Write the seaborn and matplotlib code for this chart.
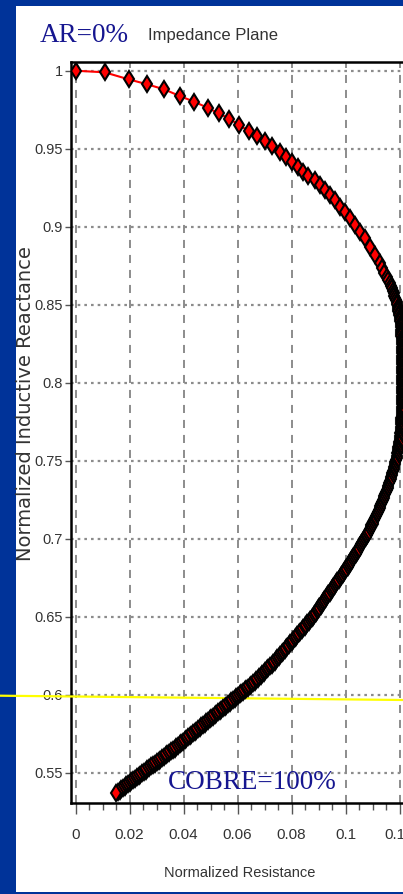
import numpy as np
import pandas as pd
import matplotlib
matplotlib.use("Agg")
import matplotlib.pyplot as plt
import seaborn as sns
from matplotlib.patches import Rectangle
from matplotlib.ticker import MultipleLocator

# impedance plane curve (one line per stretch of the curve)
resistance = [
    0.0000, 0.0107, 0.0196, 0.0265, 0.0329, 0.0388, 0.0440, 0.0489, 0.0530, 0.0569, 0.0606,
    0.0641, 0.0673, 0.0702, 0.0729, 0.0757, 0.0779, 0.0801, 0.0823, 0.0843, 0.0862,
    0.0886, 0.0904, 0.0923, 0.0941, 0.0960, 0.0979, 0.0997, 0.1016, 0.1034, 0.1053, 0.1071, 0.1090, 0.1108, 0.1127,
    0.1136, 0.1144, 0.1152, 0.1158, 0.1164, 0.1168, 0.1171, 0.1175, 0.1179,
    0.1181, 0.1184, 0.1186, 0.1189, 0.1191, 0.1194,
    0.1195, 0.1196, 0.1198, 0.1199, 0.1200, 0.1202, 0.1203, 0.1205,
    0.1205, 0.1206, 0.1206, 0.1206, 0.1207, 0.1207, 0.1208, 0.1208,
    0.1208, 0.1209, 0.1209, 0.1209, 0.1209, 0.1209, 0.1209, 0.1210, 0.1210, 0.1210, 0.1210, 0.1210,
    0.1210, 0.1210, 0.1210, 0.1211, 0.1211, 0.1211, 0.1211, 0.1210, 0.1210, 0.1210, 0.1210, 0.1210, 0.1210, 0.1210, 0.1209,
    0.1209, 0.1209, 0.1209, 0.1209, 0.1208, 0.1208, 0.1208, 0.1207, 0.1207, 0.1206, 0.1206, 0.1205, 0.1205, 0.1204, 0.1203,
    0.1202, 0.1201, 0.1200, 0.1199, 0.1198, 0.1196, 0.1195, 0.1194, 0.1192, 0.1190, 0.1189, 0.1187, 0.1185, 0.1183, 0.1181,
    0.1179, 0.1177, 0.1174, 0.1172, 0.1170, 0.1167, 0.1164, 0.1162, 0.1159, 0.1156, 0.1153, 0.1150, 0.1147, 0.1144, 0.1141, 0.1138,
    0.1135, 0.1132, 0.1129, 0.1126, 0.1123, 0.1119, 0.1116, 0.1113, 0.1110, 0.1106, 0.1103, 0.1100, 0.1096, 0.1093, 0.1089, 0.1086, 0.1082,
    0.1078, 0.1074, 0.1070, 0.1066, 0.1062, 0.1058, 0.1054, 0.1049, 0.1045, 0.1041, 0.1037, 0.1033, 0.1029, 0.1025, 0.1021, 0.1016, 0.1012, 0.1008,
    0.1003, 0.0999, 0.0994, 0.0989, 0.0984, 0.0979, 0.0975, 0.0970, 0.0965, 0.0960, 0.0955, 0.0951, 0.0946, 0.0941, 0.0936, 0.0931, 0.0927, 0.0922,
    0.0917, 0.0912, 0.0908, 0.0903, 0.0898, 0.0894, 0.0889, 0.0884, 0.0880,
    0.0874, 0.0869, 0.0864, 0.0858, 0.0853, 0.0848, 0.0843, 0.0837, 0.0832, 0.0827, 0.0821, 0.0816, 0.0811, 0.0805,
    0.0800, 0.0795, 0.0790, 0.0784, 0.0779, 0.0774, 0.0768, 0.0763, 0.0758, 0.0753, 0.0747, 0.0742, 0.0737, 0.0731,
    0.0726, 0.0720, 0.0714, 0.0709, 0.0703, 0.0697, 0.0691, 0.0686, 0.0680, 0.0674, 0.0669, 0.0663, 0.0657,
    0.0651, 0.0645, 0.0639, 0.0633, 0.0626, 0.0620, 0.0614, 0.0608, 0.0602, 0.0595, 0.0589, 0.0583,
    0.0577, 0.0571, 0.0565, 0.0558, 0.0552, 0.0546, 0.0540, 0.0534, 0.0527, 0.0521, 0.0515, 0.0509,
    0.0503, 0.0497, 0.0490, 0.0484, 0.0478, 0.0472, 0.0466, 0.0460, 0.0453, 0.0447, 0.0441, 0.0435,
    0.0429, 0.0422, 0.0416, 0.0410, 0.0404, 0.0398, 0.0392, 0.0385, 0.0379, 0.0373, 0.0367, 0.0361,
    0.0354, 0.0347, 0.0340, 0.0334, 0.0327, 0.0320, 0.0313, 0.0307, 0.0300, 0.0293, 0.0287,
    0.0280, 0.0273, 0.0266, 0.0260, 0.0253, 0.0246, 0.0239, 0.0233, 0.0226, 0.0219, 0.0212,
    0.0206, 0.0200, 0.0194, 0.0188, 0.0182, 0.0176, 0.0169, 0.0163, 0.0157, 0.0151,
]
reactance = [
    1.0000, 0.9990, 0.9945, 0.9913, 0.9880, 0.9836, 0.9801, 0.9762, 0.9727, 0.9693, 0.9651,
    0.9614, 0.9582, 0.9550, 0.9515, 0.9479, 0.9448, 0.9414, 0.9380, 0.9350, 0.9322,
    0.9299, 0.9267, 0.9235, 0.9203, 0.9171, 0.9128, 0.9096, 0.9054, 0.9011, 0.8968, 0.8926, 0.8872, 0.8819, 0.8765,
    0.8733, 0.8705, 0.8679, 0.8656, 0.8637, 0.8620, 0.8605, 0.8590, 0.8573,
    0.8559, 0.8545, 0.8530, 0.8516, 0.8502, 0.8487,
    0.8474, 0.8461, 0.8447, 0.8434, 0.8421, 0.8407, 0.8394, 0.8381,
    0.8367, 0.8354, 0.8341, 0.8327, 0.8314, 0.8301, 0.8287, 0.8274,
    0.8259, 0.8245, 0.8231, 0.8217, 0.8202, 0.8188, 0.8174, 0.8160, 0.8145, 0.8131, 0.8117, 0.8103,
    0.8088, 0.8074, 0.8060, 0.8046, 0.8031, 0.8017, 0.8003, 0.7989, 0.7975, 0.7960, 0.7946, 0.7932, 0.7918, 0.7903, 0.7889,
    0.7875, 0.7861, 0.7846, 0.7832, 0.7818, 0.7804, 0.7790, 0.7775, 0.7761, 0.7747, 0.7733, 0.7718, 0.7704, 0.7690, 0.7676,
    0.7661, 0.7647, 0.7633, 0.7619, 0.7604, 0.7590, 0.7576, 0.7561, 0.7547, 0.7533, 0.7519, 0.7504, 0.7490, 0.7476, 0.7462,
    0.7448, 0.7435, 0.7422, 0.7408, 0.7395, 0.7382, 0.7368, 0.7355, 0.7341, 0.7328, 0.7315, 0.7301, 0.7288, 0.7275, 0.7261, 0.7248,
    0.7236, 0.7223, 0.7210, 0.7198, 0.7185, 0.7173, 0.7160, 0.7148, 0.7135, 0.7123, 0.7110, 0.7097, 0.7085, 0.7072, 0.7060, 0.7047, 0.7035,
    0.7023, 0.7011, 0.6999, 0.6987, 0.6975, 0.6963, 0.6951, 0.6940, 0.6928, 0.6916, 0.6904, 0.6892, 0.6880, 0.6868, 0.6856, 0.6844, 0.6832, 0.6820,
    0.6809, 0.6797, 0.6785, 0.6773, 0.6761, 0.6749, 0.6738, 0.6726, 0.6714, 0.6702, 0.6690, 0.6678, 0.6666, 0.6654, 0.6643, 0.6631, 0.6619, 0.6607,
    0.6595, 0.6583, 0.6571, 0.6560, 0.6548, 0.6536, 0.6524, 0.6512, 0.6500,
    0.6489, 0.6479, 0.6468, 0.6457, 0.6447, 0.6436, 0.6425, 0.6415, 0.6404, 0.6393, 0.6383, 0.6372, 0.6361, 0.6351,
    0.6340, 0.6329, 0.6319, 0.6308, 0.6297, 0.6287, 0.6276, 0.6265, 0.6255, 0.6244, 0.6233, 0.6223, 0.6212, 0.6201,
    0.6191, 0.6182, 0.6172, 0.6162, 0.6152, 0.6142, 0.6132, 0.6122, 0.6113, 0.6103, 0.6093, 0.6083, 0.6073,
    0.6064, 0.6055, 0.6046, 0.6037, 0.6029, 0.6020, 0.6011, 0.6002, 0.5993, 0.5984, 0.5975, 0.5966,
    0.5957, 0.5948, 0.5939, 0.5930, 0.5921, 0.5913, 0.5904, 0.5895, 0.5886, 0.5877, 0.5868, 0.5859,
    0.5850, 0.5841, 0.5832, 0.5824, 0.5815, 0.5806, 0.5797, 0.5788, 0.5779, 0.5770, 0.5762, 0.5753,
    0.5744, 0.5735, 0.5726, 0.5717, 0.5708, 0.5699, 0.5690, 0.5681, 0.5672, 0.5663, 0.5654, 0.5645,
    0.5637, 0.5628, 0.5619, 0.5611, 0.5602, 0.5593, 0.5584, 0.5576, 0.5567, 0.5558, 0.5549,
    0.5541, 0.5532, 0.5523, 0.5514, 0.5506, 0.5497, 0.5488, 0.5480, 0.5471, 0.5462, 0.5453,
    0.5445, 0.5436, 0.5428, 0.5419, 0.5411, 0.5402, 0.5394, 0.5385, 0.5376, 0.5368,
]

x_ticks = [0, 0.02, 0.04, 0.06, 0.08, 0.1, 0.12]
x_tick_labels = ["0", "0.02", "0.04", "0.06", "0.08", "0.1", "0.12"]
y_ticks = [0.55, 0.6, 0.65, 0.7, 0.75, 0.8, 0.85, 0.9, 0.95, 1.0]
y_tick_labels = ["0.55", "0.6", "0.65", "0.7", "0.75", "0.8", "0.85", "0.9", "0.95", "1"]

df = pd.DataFrame({"resistance": resistance, "reactance": reactance})

sns.set_style("white")
plt.rcParams["lines.scale_dashes"] = False
sans = ["Liberation Sans", "DejaVu Sans"]
txt_gray = "#333333"
navy = "#161690"

fig = plt.figure(figsize=(4.03, 8.94), dpi=100, facecolor="#003399")
# white slide panel inside the blue border
fig.add_artist(Rectangle((16 / 403, 2 / 894), 1.0, 886 / 894, transform=fig.transFigure,
                         facecolor="white", edgecolor="none", zorder=-1))

ax = fig.add_axes([0.1754, 0.1015, 0.8494, 0.8295])
ax.set_facecolor("white")

sns.lineplot(data=df, x="resistance", y="reactance", sort=False, estimator=None,
             color="#ff0000", linewidth=1.5, marker="d", markersize=8.5,
             markerfacecolor="#ff0000", markeredgecolor="black", markeredgewidth=1.5,
             ax=ax, zorder=3)

# yellow marker line across the slide
ax.plot([0, 1], [1 - 695.7 / 894, 1 - 700 / 894], transform=fig.transFigure,
        color="#ffff00", lw=1.6, clip_on=False, zorder=2.8)

ax.set_xlim(-0.00185, 0.125)
ax.set_ylim(0.5304, 1.0058)
ax.set_xticks(x_ticks, labels=x_tick_labels)
ax.set_yticks(y_ticks, labels=y_tick_labels)
ax.xaxis.set_minor_locator(MultipleLocator(0.005))

ax.set_axisbelow(True)
ax.xaxis.grid(True, linestyle=(0, (5.8, 5)), color="#8c8c8c", lw=1.4)
ax.yaxis.grid(True, linestyle=(0, (1.9, 2.9)), color="#8c8c8c", lw=1.6)

for side in ["top", "left", "bottom", "right"]:
    ax.spines[side].set_color("black")
    ax.spines[side].set_linewidth(1.8)

ax.tick_params(axis="x", which="major", direction="out", length=8, width=1,
               color="#555555", pad=10, labelsize=11, labelcolor=txt_gray, bottom=True)
ax.tick_params(axis="x", which="minor", direction="out", length=5, width=1,
               color="#555555", bottom=True)
ax.tick_params(axis="y", which="major", direction="out", length=4, width=1,
               color="#555555", pad=1.5, labelsize=10.5, labelcolor=txt_gray, left=True)
for lab in ax.get_xticklabels() + ax.get_yticklabels():
    lab.set_family(sans)

ax.set_xlabel("Normalized Resistance", family=sans, fontsize=10.5, color=txt_gray,
              va="baseline")
ax.xaxis.set_label_coords(0.4946, -0.099)
ax.set_ylabel("Normalized Inductive Reactance", family="DejaVu Sans", fontsize=14,
              color=txt_gray)
ax.yaxis.label.set(rotation_mode="default", va="center", ha="center")
ax.yaxis.set_label_coords(-0.1320, 0.5384)

fig.text(213 / 403, 1 - 40 / 894, "Impedance Plane", ha="center", va="baseline",
         family=sans, fontsize=12, color=txt_gray)
fig.text(40 / 403, 1 - 41.7 / 894, "AR=0%", ha="left", va="baseline",
         family="Liberation Serif", fontsize=19.5, color=navy)
fig.text(168 / 403, 1 - 789 / 894, "COBRE=100%", ha="left", va="baseline",
         family="Liberation Serif", fontsize=19.5, color=navy, zorder=5)

fig.savefig("out.png", dpi=100, facecolor=fig.get_facecolor())
